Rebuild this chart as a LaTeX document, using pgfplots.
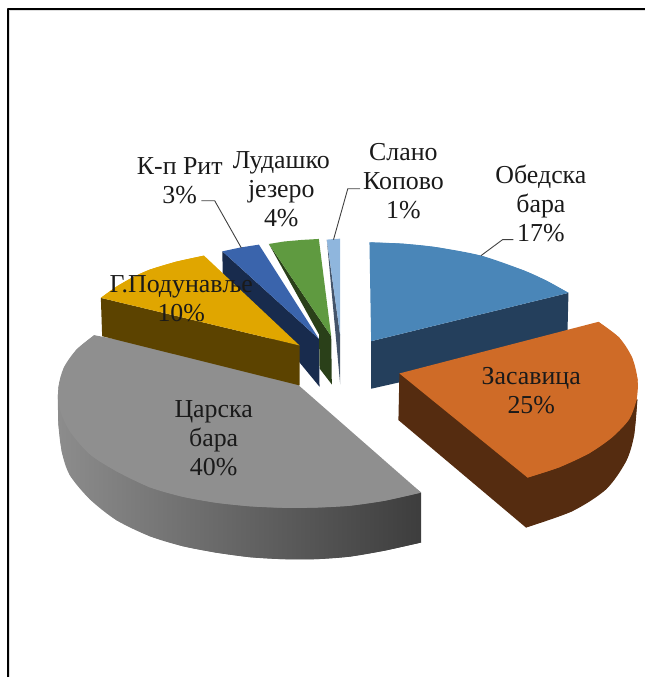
\documentclass[border=0pt]{standalone}
\usepackage{pgfplots}
\pgfplotsset{compat=1.18}
\usepackage{fontspec}
\setmainfont{Liberation Serif}
\definecolor{blueTop}{HTML}{4A86B8}
\definecolor{blueSide}{HTML}{243F5C}
\definecolor{orangeTop}{HTML}{CF6B27}
\definecolor{orangeSide}{HTML}{552C10}
\definecolor{grayTop}{HTML}{8F8F8F}
\definecolor{goldTop}{HTML}{E0A600}
\definecolor{goldSide}{HTML}{5C4300}
\definecolor{navyTop}{HTML}{3A64AC}
\definecolor{navySide}{HTML}{182B4D}
\definecolor{greenTop}{HTML}{5F9A40}
\definecolor{greenSide}{HTML}{2A4019}
\definecolor{skyTop}{HTML}{8FB6DD}
\definecolor{skySide}{HTML}{44546A}
\definecolor{labelInk}{HTML}{1A1A1A}
\pgfplotsset{grayShade/.style={left color=black!45, right color=black!76, shading=axis, shading angle=90}}
\begin{document}
\begin{tikzpicture}[x=1bp,y=1bp]
\begin{axis}[
  scale only axis,
  width=646bp, height=678bp,
  xmin=0, xmax=646, ymin=0, ymax=678,
  y dir=reverse,
  axis lines=none,
  clip=false,
  no markers,
  every axis plot/.append style={draw=none, line join=round},
]
\path (axis cs:0,0) rectangle (axis cs:646,678);
% frame of the page (left and top rule)
\addplot[draw=black!13, line width=1bp] coordinates {(9.8,678) (9.8,10.8) (646,10.8)};
\addplot[draw=black, line width=2bp] coordinates {(8.3,678) (8.3,9.3) (646,9.3)};

% each wedge: a plain polygon, then the same rim smooth on top to round the edge

% Царска бара
\addplot[grayShade] coordinates {
  (58,395) (58.5,425) (62,453) (70,476) (90,500) (116.7,521) (150,537) (183,547) (216.7,553.5)
  (250,558) (283,560) (316.7,560) (350,557.5) (385,551.5) (421.7,543.3) (421.7,493.3) (300,400)} --cycle;
\addplot[smooth, grayShade] coordinates {
  (58,395) (58.5,425) (62,453) (70,476) (90,500) (116.7,521) (150,537) (183,547) (216.7,553.5)
  (250,558) (283,560) (316.7,560) (350,557.5) (385,551.5) (421.7,543.3)};
\addplot[fill=grayTop] coordinates {
  (94.3,335.7) (76.7,350) (64,368) (58.5,388) (60,410) (70,432) (90,455) (116.7,472)
  (150,488) (183,497.5) (216.7,503.5) (250,507) (283,508.5) (316.7,508.3) (350,506.5) (385,501.5)
  (421.7,493.3) (300,386.7) (290,372)} --cycle;
\addplot[smooth, fill=grayTop] coordinates {
  (94.3,335.7) (76.7,350) (64,368) (58.5,388) (60,410) (70,432) (90,455) (116.7,472)
  (150,488) (183,497.5) (216.7,503.5) (250,507) (283,508.5) (316.7,508.3) (350,506.5) (385,501.5)
  (421.7,493.3)};

% Слано Копово
\addplot[fill=skySide] coordinates {(327.3,240) (340.7,336) (340.7,385) (337,345)} --cycle;
\addplot[fill=skyTop] coordinates {(327.3,240) (334,239.4) (340.7,239) (340.7,336)} --cycle;

% Лудашко језеро
\addplot[fill=greenSide] coordinates {(269.3,244.3) (331.7,336.7) (332.3,385) (320,369) (319.5,335)} --cycle;
\addplot[fill=greenTop] coordinates {(269.3,244.3) (285,241.8) (302,240.3) (319.3,239.3) (331.7,336.7)} --cycle;

% К-п Рит
\addplot[fill=navySide] coordinates {(222.7,251.7) (223.3,300) (300,363) (320,387.3) (319.3,339.3)} --cycle;
\addplot[fill=navyTop] coordinates {(222.7,251.7) (241,247.8) (259.3,245) (319.3,339.3)} --cycle;

% Г.Подунавље
\addplot[fill=goldSide] coordinates {(101,298.3) (102.3,336.7) (300,386) (300,346)} --cycle;
\addplot[fill=goldTop] coordinates {
  (101,298.3) (116.7,287) (133.3,277.5) (150,270) (176.7,262) (204.3,256) (300,346)} --cycle;
\addplot[smooth, fill=goldTop] coordinates {
  (101,298.3) (116.7,287) (133.3,277.5) (150,270) (176.7,262) (204.3,256)};

% Обедска бара
\addplot[fill=blueSide] coordinates {(371.7,341.7) (569.3,293.3) (568,345) (371.7,389.3)} --cycle;
\addplot[fill=blueTop] coordinates {
  (370,242.7) (403,244) (436.7,247.5) (481.7,256) (525,271) (548,281.5) (569.3,293.3) (371.7,341.7)} --cycle;
\addplot[smooth, fill=blueTop] coordinates {
  (370,242.7) (403,244) (436.7,247.5) (481.7,256) (525,271) (548,281.5) (569.3,293.3)};

% Засавица
\addplot[fill=orangeSide] coordinates {
  (400,374) (399,420.7) (526.7,528.3) (573,512) (607,490) (627,462) (635,436) (638.3,400)} --cycle;
\addplot[smooth, fill=orangeSide] coordinates {
  (526.7,528.3) (573,512) (607,490) (627,462) (635,436) (638.3,400)};
\addplot[fill=orangeTop] coordinates {
  (599.3,322.3) (620,338) (633,358) (638.5,380) (637.5,400) (630,420) (613,438) (590,454)
  (560,468) (528.3,478.3) (400,374)} --cycle;
\addplot[smooth, fill=orangeTop] coordinates {
  (599.3,322.3) (620,338) (633,358) (638.5,380) (637.5,400) (630,420) (613,438) (590,454)
  (560,468) (528.3,478.3)};

% leader lines
\addplot[draw=black!75, line width=0.9bp] coordinates {(201.7,201) (215,201) (241.7,248.3)};
\addplot[draw=black!75, line width=0.9bp] coordinates {(360.7,189) (348.3,189) (334,240)};
\addplot[draw=black!75, line width=0.9bp] coordinates {(514,240) (503.3,240) (481.7,256)};

% labels
\begin{scope}[every node/.style={align=center, text=labelInk, font=\fontsize{26}{29}\selectfont, inner sep=0pt}]
\node at (axis cs:404,181.5) {Слано\\Копово\\1\%};
\node at (axis cs:541.7,204) {Обедска\\бара\\17\%};
\node at (axis cs:180,181) {К-п Рит\\3\%};
\node at (axis cs:281.7,189.5) {Лудашко\\језеро\\4\%};
\node at (axis cs:181.5,299) {Г.Подунавље\\10\%};
\node at (axis cs:214,438.5) {Царска\\бара\\40\%};
\node at (axis cs:532,391) {Засавица\\25\%};
\end{scope}
\end{axis}
\end{tikzpicture}
\end{document}
